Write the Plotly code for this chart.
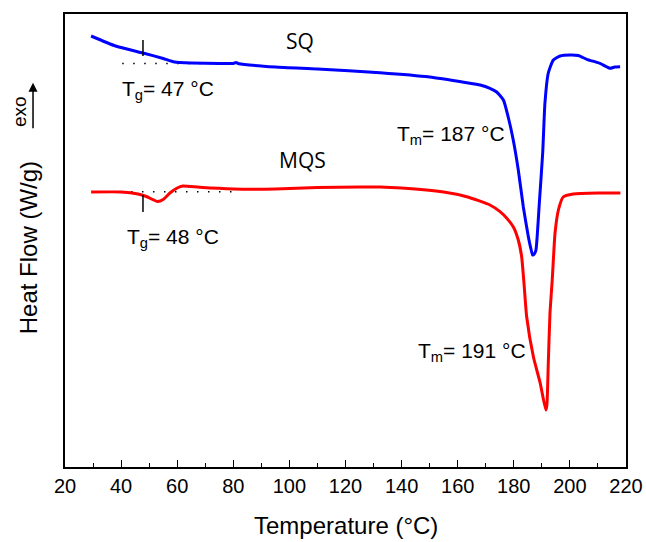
import plotly.graph_objects as go

# ---- data (temperature in °C, heat flow in arbitrary W/g units, exo up) ----
sq_temp = [29.3, 38, 47.8, 55, 59, 65, 75, 80, 81, 82, 95, 110, 132.3, 150, 163.2, 168,
           171.5, 173.9, 176.3, 178.0, 179.8, 181.6, 183.4, 185.2, 186.2, 186.7, 187.3, 187.9,
           189.1, 190.3, 191.1, 192.3, 194.1, 196.5, 200, 203, 206, 210.7, 214.3, 216, 217.9]
sq_flow = [4.31, 4.21, 4.14, 4.085, 4.05, 4.04, 4.035, 4.035, 4.045, 4.032, 4.00, 3.98, 3.943, 3.90, 3.843, 3.82,
           3.787, 3.75, 3.67, 3.50, 3.27, 2.97, 2.60, 2.30, 2.17, 2.12, 2.13, 2.17,
           2.64, 3.14, 3.64, 3.94, 4.07, 4.11, 4.12, 4.115, 4.077, 4.037, 3.987, 4.00, 4.003]

mqs_temp = [29.3, 40, 46, 49, 53, 55, 57.4, 60, 62, 68, 80, 95, 110, 125, 132.3, 140, 155, 163.2,
            171.5, 175.1, 177.5, 179.8, 181.6, 182.8, 183.6, 184.6, 187.0, 189.4, 191.4, 191.8, 192.3,
            192.9, 193.7, 194.7, 195.9, 197.6, 201.2, 210, 218]
mqs_flow = [2.75, 2.75, 2.73, 2.705, 2.655, 2.675, 2.74, 2.79, 2.81, 2.797, 2.78, 2.78, 2.795, 2.80, 2.80, 2.79, 2.75, 2.703,
            2.62, 2.553, 2.487, 2.403, 2.27, 2.103, 1.85, 1.50, 1.10, 0.84, 0.57, 0.62, 1.04,
            1.54, 1.87, 2.34, 2.57, 2.70, 2.73, 2.74, 2.74]

# Tg construction guides
sq_base_x = [40.4, 79.8]
sq_base_y = [4.035, 4.035]
sq_tg_x = [47.8, 47.8]
sq_tg_y = [4.27, 4.11]
mqs_base_x = [39.6, 79.8]
mqs_base_y = [2.753, 2.753]
mqs_tg_x = [47.8, 47.8]
mqs_tg_y = [2.72, 2.55]

x_ticks = [20, 40, 60, 80, 100, 120, 140, 160, 180, 200, 220]

fig = go.Figure()
fig.add_trace(go.Scatter(x=sq_base_x, y=sq_base_y, mode="lines",
                         line=dict(color="black", width=1.5, dash="1.5px,9.5px"), showlegend=False))
fig.add_trace(go.Scatter(x=mqs_base_x, y=mqs_base_y, mode="lines",
                         line=dict(color="black", width=1.5, dash="1.5px,9.5px"), showlegend=False))
fig.add_trace(go.Scatter(x=sq_temp, y=sq_flow, mode="lines", name="SQ",
                         line=dict(color="#0000ff", width=3, shape="spline", smoothing=0.5), showlegend=False))
fig.add_trace(go.Scatter(x=mqs_temp, y=mqs_flow, mode="lines", name="MQS",
                         line=dict(color="#ff0000", width=3, shape="spline", smoothing=0.5), showlegend=False))
fig.add_trace(go.Scatter(x=sq_tg_x, y=sq_tg_y, mode="lines",
                         line=dict(color="black", width=1.5), showlegend=False))
fig.add_trace(go.Scatter(x=mqs_tg_x, y=mqs_tg_y, mode="lines",
                         line=dict(color="black", width=1.5), showlegend=False))

AR = "Liberation Sans, Arial, sans-serif"
afont = dict(family=AR, size=21, color="black")
lfont = dict(family="Open Sans, sans-serif", size=21, color="black")
ann = [
    dict(x=39.6, y=3.77, text="T<sub>g</sub>= 47 °C", xanchor="left", yanchor="middle", font=afont),
    dict(x=41.4, y=2.29, text="T<sub>g</sub>= 48 °C", xanchor="left", yanchor="middle", font=afont),
    dict(x=137.6, y=3.32, text="T<sub>m</sub>= 187 °C", xanchor="left", yanchor="middle", font=afont),
    dict(x=145.1, y=1.15, text="T<sub>m</sub>= 191 °C", xanchor="left", yanchor="middle", font=afont),
    dict(x=103.8, y=4.26, text="SQ", xanchor="center", yanchor="middle", font=lfont),
    dict(x=104.8, y=3.07, text="MQS", xanchor="center", yanchor="middle", font=lfont),
]
for a in ann:
    a.update(xref="x", yref="y", showarrow=False)
    fig.add_annotation(**a)

# axis titles
fig.add_annotation(xref="paper", yref="paper", x=0.5, y=-0.130, text="Temperature (°C)",
                   showarrow=False, xanchor="center", yanchor="middle", font=dict(family=AR, size=24, color="black"))
fig.add_annotation(xref="paper", yref="paper", x=-0.066, y=0.485, text="Heat Flow (W/g)", textangle=-90,
                   showarrow=False, xanchor="center", yanchor="middle", font=dict(family=AR, size=24, color="black"))
# exo label with arrow
fig.add_annotation(xref="paper", yref="paper", x=-0.080, y=0.784, text="exo", textangle=-90,
                   showarrow=False, xanchor="center", yanchor="middle", font=dict(family=AR, size=19, color="black"))
fig.add_annotation(xref="paper", yref="paper", x=-0.057, y=0.848, text="", showarrow=True,
                   ax=0, ay=47, arrowhead=2, arrowsize=1.2, arrowwidth=1.5, arrowcolor="black")

fig.update_xaxes(range=[20, 220], tickvals=x_ticks, ticks="inside", ticklen=7, tickwidth=1.3,
                 tickcolor="black", showline=True, linecolor="black", linewidth=1.5, mirror=True,
                 showgrid=False, zeroline=False, automargin=False,
                 minor=dict(dtick=10, ticks="inside", ticklen=4, tickwidth=1.2, tickcolor="black", showgrid=False),
                 tickfont=dict(family=AR, size=20, color="black"))
fig.update_yaxes(range=[0, 4.53], showticklabels=False, ticks="", showline=True, linecolor="black",
                 linewidth=1.5, mirror=True, showgrid=False, zeroline=False, automargin=False)
fig.update_layout(width=646, height=542, margin=dict(l=65, r=20, t=14, b=75, autoexpand=False),
                  plot_bgcolor="white", paper_bgcolor="white")
fig.write_html("out.html", config={"displayModeBar": False},
               post_script="document.body.style.margin='0';document.body.style.padding='0';")
